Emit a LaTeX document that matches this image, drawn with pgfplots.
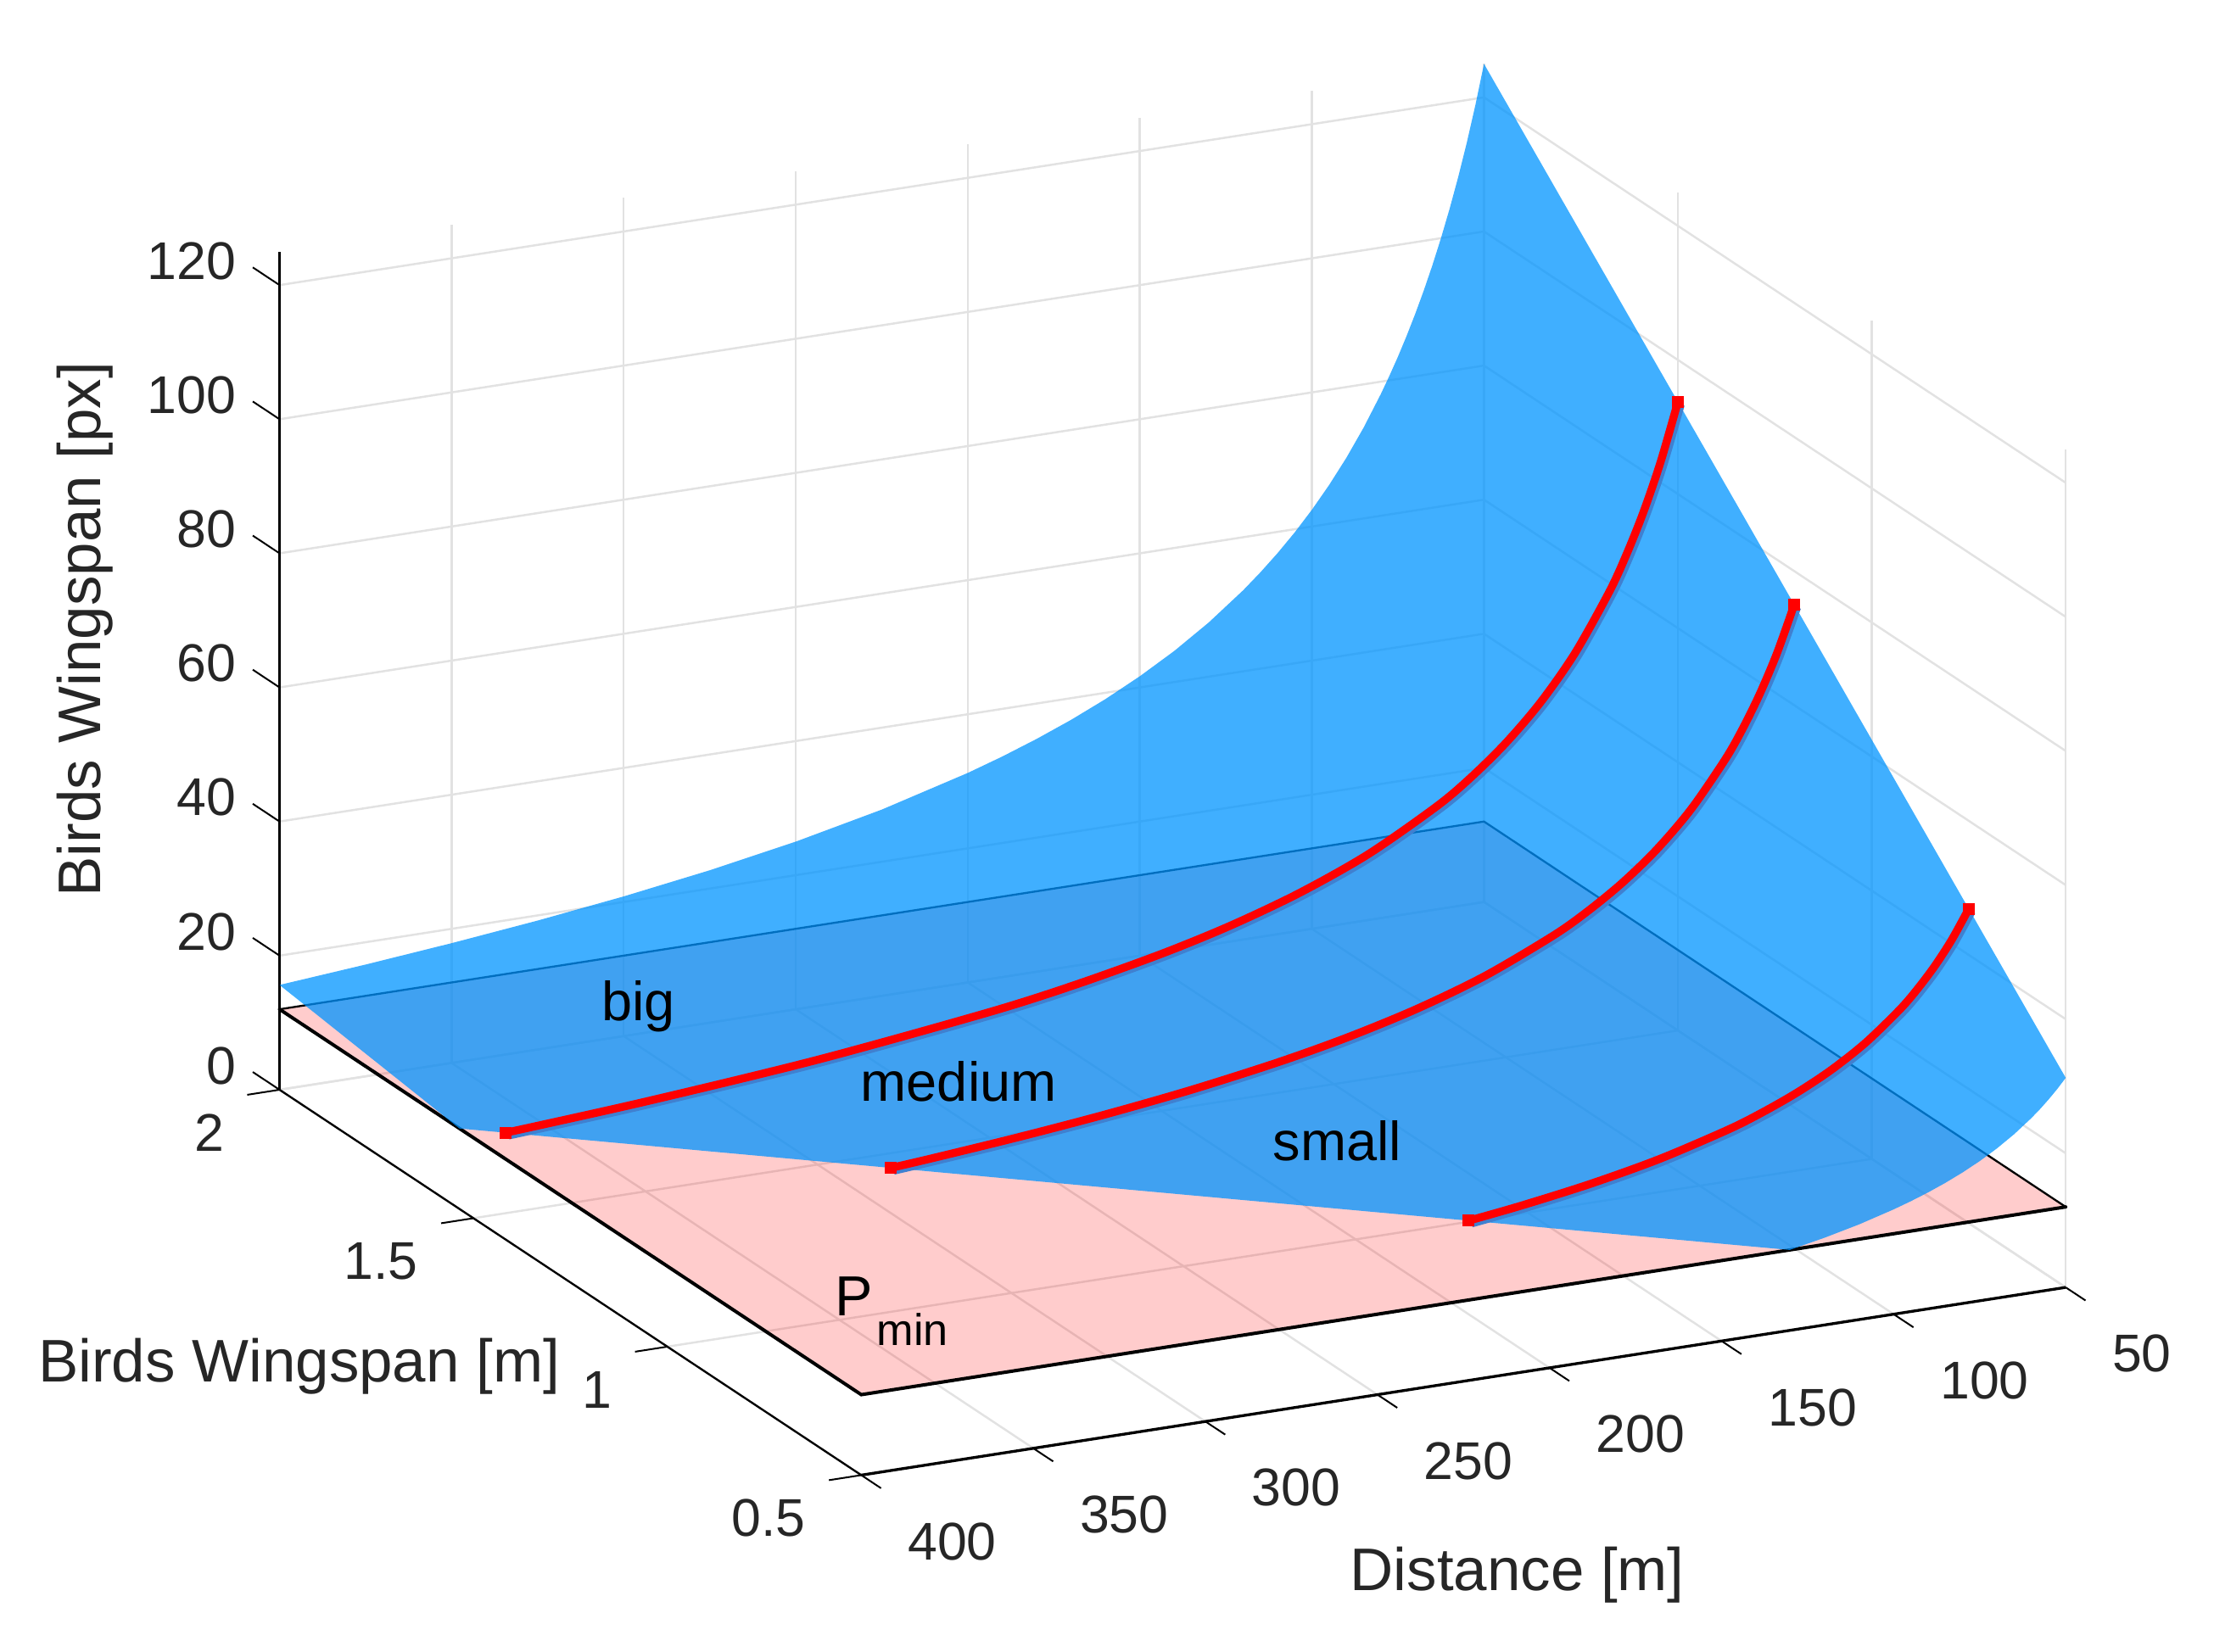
\documentclass[border=0pt]{standalone}
\usepackage{fontspec}
\setmainfont{Liberation Sans}
\usepackage{pgfplots}
\pgfplotsset{compat=1.18}
\definecolor{surfblue}{RGB}{0,148,255}
\definecolor{shadowblue}{RGB}{64,128,208}
\definecolor{gridgray}{RGB}{226,226,226}
\definecolor{txt}{RGB}{38,38,38}
\pgfplotstableread{
d w z
400 2 15.63
375 2 16.67
350 2 17.86
325 2 19.23
300 2 20.83
275 2 22.73
250 2 25
225 2 27.78
200 2 31.25
190 2 32.89
180 2 34.72
170 2 36.76
160 2 39.06
150 2 41.67
140 2 44.64
130 2 48.08
120 2 52.08
115 2 54.35
110 2 56.82
105 2 59.52
100 2 62.5
95 2 65.79
90 2 69.44
85 2 73.53
80 2 78.13
77.5 2 80.65
75 2 83.33
72.5 2 86.21
70 2 89.29
67.5 2 92.59
65 2 96.15
62.5 2 100
60 2 104.17
57.5 2 108.7
55 2 113.64
52.5 2 119.05
50 2 125
50 0.5 31.25
52.5 0.5 29.76
55 0.5 28.41
57.5 0.5 27.17
60 0.5 26.04
65 0.5 24.04
70 0.5 22.32
75 0.5 20.83
80 0.5 19.53
85 0.5 18.38
90 0.5 17.36
95 0.5 16.45
100 0.5 15.63
110 0.5 14.2
120 0.5 13.02
130.2 0.5 12
400 1.536 12
}\surfacetable
\pgfplotstableread{
d w z
390.6 1.5 12
350 1.5 13.39
300 1.5 15.63
250 1.5 18.75
225 1.5 20.83
200 1.5 23.44
180 1.5 26.04
160 1.5 29.3
140 1.5 33.48
120 1.5 39.06
110 1.5 42.61
100 1.5 46.88
90 1.5 52.08
80 1.5 58.59
70 1.5 66.96
65 1.5 72.12
60 1.5 78.13
55 1.5 85.23
50 1.5 93.75
}\bigbird
\pgfplotstableread{
d w z
312.5 1.2 12
300 1.2 12.5
275 1.2 13.64
250 1.2 15
225 1.2 16.67
200 1.2 18.75
180 1.2 20.83
160 1.2 23.44
140 1.2 26.79
120 1.2 31.25
110 1.2 34.09
100 1.2 37.5
90 1.2 41.67
80 1.2 46.88
70 1.2 53.57
65 1.2 57.69
60 1.2 62.5
55 1.2 68.18
50 1.2 75
}\mediumbird
\pgfplotstableread{
d w z
195.3 0.75 12
180 0.75 13.02
160 0.75 14.65
140 0.75 16.74
120 0.75 19.53
110 0.75 21.31
100 0.75 23.44
90 0.75 26.04
80 0.75 29.3
70 0.75 33.48
65 0.75 36.06
60 0.75 39.06
55 0.75 42.61
50 0.75 46.88
}\smallbird
\begin{document}
\begin{tikzpicture}
\useasboundingbox (0,0) rectangle (784pt,585pt);
\begin{axis}[
  at={(99pt,62.5pt)}, anchor=south west,
  x={(-1.21857pt,-0.19pt)}, y={(137.33pt,-91pt)}, z={(0pt,2.375pt)},
  y dir=reverse,
  xmin=50,xmax=400,ymin=0.5,ymax=2,zmin=0,zmax=125,
  clip=false,
  unbounded coords=jump,
  xtick={50,100,150,200,250,300,350,400},
  ytick={0.5,1,1.5,2},
  yticklabels={0.5,1,1.5,2},
  ztick={0,20,40,60,80,100,120},
  scaled ticks=false,
  grid=major,
  grid style={gridgray,line width=0.75pt},
  axis line style={draw=none},
  major tick length=0pt,
  /pgf/number format/assume math mode=true,
  tick label style={font=\fontsize{18.8}{20}\selectfont,text=txt,inner sep=0pt},
  xticklabel style={anchor=west,xshift=16.3pt,yshift=-23.5pt},
  yticklabel style={anchor=east,xshift=-19.5pt,yshift=-15.3pt},
  zticklabel style={anchor=east,xshift=-15.3pt,yshift=8.5pt},
  xlabel={Distance [m]},
  ylabel={Birds Wingspan [m]},
  zlabel={Birds Wingspan [px]},
  label style={font=\fontsize{21.3}{24}\selectfont,text=txt},
  xlabel style={at={(rel axis cs:0.658,1.4196,0)},anchor=center,sloped=false,rotate=0,yshift=-0.8pt},
  ylabel style={at={(rel axis cs:1.2675,0.5876,0)},anchor=center,sloped=false,rotate=0},
  zlabel style={at={(rel axis cs:1,-0.335,0.392)},anchor=center,sloped=false,rotate=0,xshift=1pt},
]
% axis lines
\addplot3[black,line width=1pt,forget plot] coordinates {(50,0.5,0) (400,0.5,0)};
\addplot3[black,line width=0.7pt,forget plot] coordinates {(400,0.5,0) (400,2,0)};
\addplot3[black,line width=0.8pt,forget plot] coordinates {(400,2,0) (400,2,125)};
% tick marks
\addplot3[black,line width=0.6pt,forget plot] coordinates {
(50,0.5,0) (50,0.449,0) (nan,nan,nan)
(100,0.5,0) (100,0.449,0) (nan,nan,nan)
(150,0.5,0) (150,0.449,0) (nan,nan,nan)
(200,0.5,0) (200,0.449,0) (nan,nan,nan)
(250,0.5,0) (250,0.449,0) (nan,nan,nan)
(300,0.5,0) (300,0.449,0) (nan,nan,nan)
(350,0.5,0) (350,0.449,0) (nan,nan,nan)
(400,0.5,0) (400,0.449,0) (nan,nan,nan)
(400,0.5,0) (409.4,0.5,0) (nan,nan,nan)
(400,1,0) (409.4,1,0) (nan,nan,nan)
(400,1.5,0) (409.4,1.5,0) (nan,nan,nan)
(400,2,0) (409.4,2,0) (nan,nan,nan)
(400,2,0) (400,2.069,0) (nan,nan,nan)
(400,2,20) (400,2.069,20) (nan,nan,nan)
(400,2,40) (400,2.069,40) (nan,nan,nan)
(400,2,60) (400,2.069,60) (nan,nan,nan)
(400,2,80) (400,2.069,80) (nan,nan,nan)
(400,2,100) (400,2.069,100) (nan,nan,nan)
(400,2,120) (400,2.069,120)
};
% Pmin plane: fill, rear edges (thin), front edges (thick)
\addplot3[draw=none,fill=red,fill opacity=0.2,forget plot] coordinates {(400,0.5,12) (50,0.5,12) (50,2,12) (400,2,12) (400,0.5,12)};
\addplot3[black,line width=0.7pt,forget plot] coordinates {(50,0.5,12) (50,2,12) (400,2,12)};
\addplot3[black,line width=1.2pt,line cap=round,forget plot] coordinates {(50,0.5,12) (400,0.5,12) (400,2,12)};
% surface
\addplot3[draw=none,fill=surfblue,fill opacity=0.75,forget plot] table[x=d,y=w,z=z] {\surfacetable};
% bird curves
\addplot3[shadowblue,line width=2.8pt,smooth,xshift=1pt,yshift=-1pt,forget plot] table[x=d,y=w,z=z] {\bigbird};
\addplot3[red,line width=2.8pt,smooth,forget plot] table[x=d,y=w,z=z] {\bigbird};
\addplot3[shadowblue,line width=2.8pt,smooth,xshift=1pt,yshift=-1pt,forget plot] table[x=d,y=w,z=z] {\mediumbird};
\addplot3[red,line width=2.8pt,smooth,forget plot] table[x=d,y=w,z=z] {\mediumbird};
\addplot3[shadowblue,line width=2.8pt,smooth,xshift=1pt,yshift=-1pt,forget plot] table[x=d,y=w,z=z] {\smallbird};
\addplot3[red,line width=2.8pt,smooth,forget plot] table[x=d,y=w,z=z] {\smallbird};
\addplot3[only marks,mark=square*,mark size=1.9pt,red,forget plot] coordinates {(390.6,1.5,12) (50,1.5,93.75) (312.5,1.2,12) (50,1.2,75) (195.3,0.75,12) (50,0.75,46.88)};
\end{axis}
\node[font=\fontsize{19.5}{20}\selectfont,anchor=center] at (226pt,228.5pt) {big};
\node[font=\fontsize{19.5}{20}\selectfont,anchor=center] at (339.5pt,202pt) {medium};
\node[font=\fontsize{19.5}{20}\selectfont,anchor=center] at (473.5pt,181pt) {small};
\node[font=\fontsize{20}{20}\selectfont,anchor=west,inner sep=0pt] at (295.5pt,120.5pt) {P\raisebox{-10.5pt}{\kern1.5pt\fontsize{15.7}{16}\selectfont min}};
\end{tikzpicture}
\end{document}
